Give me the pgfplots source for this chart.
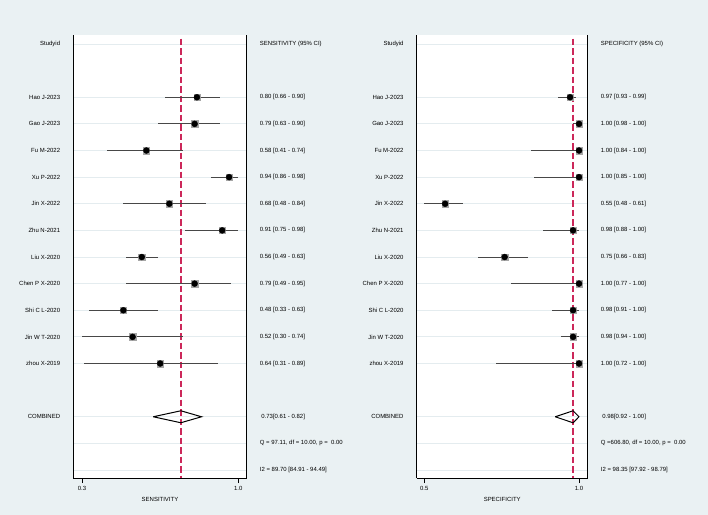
\documentclass[border=0pt]{standalone}
\usepackage{pgfplots}
\pgfplotsset{compat=1.18}
\usepackage{pgfplotstable}
\usepackage{fontspec}
\setmainfont{Liberation Sans}
\definecolor{bgc}{RGB}{234,241,243}
\definecolor{gridc}{RGB}{228,236,239}
\definecolor{refred}{RGB}{204,40,90}
\pgfplotstableread{
row est lo hi
2 0.80 0.66 0.90
3 0.79 0.63 0.90
4 0.58 0.41 0.74
5 0.94 0.86 0.98
6 0.68 0.48 0.84
7 0.91 0.75 0.98
8 0.56 0.49 0.63
9 0.79 0.49 0.95
10 0.48 0.33 0.63
11 0.52 0.30 0.74
12 0.64 0.31 0.89
}\sens
\pgfplotstableread{
row est lo hi
2 0.97 0.93 0.99
3 1.00 0.98 1.00
4 1.00 0.84 1.00
5 1.00 0.85 1.00
6 0.55 0.48 0.61
7 0.98 0.88 1.00
8 0.75 0.66 0.83
9 1.00 0.77 1.00
10 0.98 0.91 1.00
11 0.98 0.94 1.00
12 1.00 0.72 1.00
}\spec
\newcommand{\fs}{\fontsize{6}{7}\selectfont}
\newcommand{\rt}[2]{\node[anchor=west,xshift=13bp,font=\fs,inner sep=0pt] at ({rel axis cs:1,0}|-{axis cs:0.8,#1}) {#2};}
\pgfplotsset{forest/.style={
  scale only axis, height=443bp, anchor=south west,
  y dir=reverse, ymin=-0.338, ymax=16.3,
  axis x line*=bottom, axis y line*=box,
  axis line style={black, line width=0.9bp},
  axis background/.style={fill=white},
  ytick={0,2,3,4,5,6,7,8,9,10,11,12,14,15,16},
  yticklabels={Studyid,Hao J-2023,Gao J-2023,Fu M-2022,Xu P-2022,Jin X-2022,Zhu N-2021,Liu X-2020,Chen P X-2020,Shi C L-2020,Jin W T-2020,zhou X-2019,COMBINED,{},{}},
  ymajorgrids, grid style={gridc, line width=1bp},
  y tick style={draw=none},
  yticklabel style={anchor=east, inner sep=0pt, xshift=-8bp},
  tick label style={font=\fs},
  label style={font=\fs},
  tick align=outside, x tick style={black, line width=0.8bp}, major tick length=5bp,
  /pgf/number format/assume math mode=true,
  clip=false,
  ci/.style={only marks, mark=none, error bars/.cd, x dir=both, x explicit, error mark=none,
    error bar style={black!72, line width=0.9bp}},
  refl/.style={refred, line width=1.6bp, dash pattern=on 6.5bp off 3bp},
}}
\begin{document}
\begin{tikzpicture}
\fill[bgc] (0,0) rectangle (708bp,515bp);
% ---------------- Sensitivity ----------------
\begin{axis}[forest, at={(73.3bp,37bp)}, width=173.4bp,
  xmin=0.262, xmax=1.0166, xtick={0.30,0.98}, xticklabels={0.3,1.0},
  xlabel={SENSITIVITY}]
\addplot[refl] coordinates {(0.73,-0.2) (0.73,16.3)};
\addplot[ci] table[x=est, y=row, x error plus expr=\thisrow{hi}-\thisrow{est}, x error minus expr=\thisrow{est}-\thisrow{lo}] {\sens};
\addplot[only marks, mark=square*, mark size=3.2bp, color=black!35] table[x=est, y=row] {\sens};
\addplot[only marks, mark=*, mark size=3bp, color=black] table[x=est, y=row] {\sens};
\addplot[black, line width=1bp] coordinates {(0.61,14) (0.73,13.775) (0.82,14) (0.73,14.225) (0.61,14)};
\rt{0}{SENSITIVITY (95\% CI)}
\rt{2}{0.80 [0.66 - 0.90]}
\rt{3}{0.79 [0.63 - 0.90]}
\rt{4}{0.58 [0.41 - 0.74]}
\rt{5}{0.94 [0.86 - 0.98]}
\rt{6}{0.68 [0.48 - 0.84]}
\rt{7}{0.91 [0.75 - 0.98]}
\rt{8}{0.56 [0.49 - 0.63]}
\rt{9}{0.79 [0.49 - 0.95]}
\rt{10}{0.48 [0.33 - 0.63]}
\rt{11}{0.52 [0.30 - 0.74]}
\rt{12}{0.64 [0.31 - 0.89]}
\rt{14}{\hspace{1.5bp}0.73[0.61 - 0.82]}
\rt{15}{Q = 97.11, df = 10.00, p = \ 0.00}
\rt{16}{I2 = 89.70 [84.91 - 94.49]}
\end{axis}
% ---------------- Specificity ----------------
\begin{axis}[forest, at={(416.7bp,37bp)}, width=171bp,
  xmin=0.4545, xmax=1.0292, xtick={0.48,1.00}, xticklabels={0.5,1.0},
  xlabel={SPECIFICITY}]
\addplot[refl] coordinates {(0.98,-0.2) (0.98,16.3)};
\addplot[ci] table[x=est, y=row, x error plus expr=\thisrow{hi}-\thisrow{est}, x error minus expr=\thisrow{est}-\thisrow{lo}] {\spec};
\addplot[only marks, mark=square*, mark size=3.2bp, color=black!35] table[x=est, y=row] {\spec};
\addplot[only marks, mark=*, mark size=3bp, color=black] table[x=est, y=row] {\spec};
\addplot[black, line width=1bp] coordinates {(0.92,14) (0.98,13.775) (1.00,14) (0.98,14.225) (0.92,14)};
\rt{0}{SPECIFICITY (95\% CI)}
\rt{2}{0.97 [0.93 - 0.99]}
\rt{3}{1.00 [0.98 - 1.00]}
\rt{4}{1.00 [0.84 - 1.00]}
\rt{5}{1.00 [0.85 - 1.00]}
\rt{6}{0.55 [0.48 - 0.61]}
\rt{7}{0.98 [0.88 - 1.00]}
\rt{8}{0.75 [0.66 - 0.83]}
\rt{9}{1.00 [0.77 - 1.00]}
\rt{10}{0.98 [0.91 - 1.00]}
\rt{11}{0.98 [0.94 - 1.00]}
\rt{12}{1.00 [0.72 - 1.00]}
\rt{14}{\hspace{1.5bp}0.98[0.92 - 1.00]}
\rt{15}{Q =606.80, df = 10.00, p = \ 0.00}
\rt{16}{I2 = 98.35 [97.92 - 98.79]}
\end{axis}
\end{tikzpicture}
\end{document}
